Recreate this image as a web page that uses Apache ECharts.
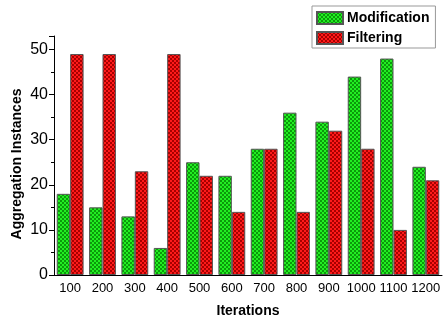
<!DOCTYPE html>
<html><head><meta charset="utf-8">
<script src="https://cdn.jsdelivr.net/npm/echarts@6/dist/echarts.min.js"></script>
<style>html,body{margin:0;padding:0;background:#fff}#c{width:444px;height:324px}</style>
</head><body><div id="c"></div>
<script>
const categories = ['100','200','300','400','500','600','700','800','900','1000','1100','1200'];
const modification = [18,15,13,6,25,22,28,36,34,44,48,24];
const filtering = [49,49,23,49,22,14,28,14,32,28,10,21];
const yTicks = [0,10,20,30,40,50];

function pattern(base, dark){
  const c = document.createElement('canvas');
  c.width = 4; c.height = 4;
  const g = c.getContext('2d');
  g.fillStyle = base; g.fillRect(0,0,4,4);
  g.fillStyle = dark; g.fillRect(0,0,2,2); g.fillRect(2,2,2,2);
  return {image: c, repeat: 'repeat'};
}
const greenFill = pattern('#22ee22', '#0a9a0a');
const redFill = pattern('#ff1a1a', '#a80000');

const chart = echarts.init(document.getElementById('c'), null, {renderer:'canvas'});
const font = '"Liberation Sans", Arial, sans-serif';
chart.setOption({
  animation: false,
  grid: {left: 54, right: 2, top: 36, bottom: 49, containLabel: false, outerBoundsMode: 'none'},
  legend: {
    orient: 'vertical', left: 312, top: 6,
    padding: [5, 6, 3, 4], itemGap: 6,
    itemWidth: 26, itemHeight: 12, icon: 'rect',
    borderColor: '#999', borderWidth: 1,
    textStyle: {fontFamily: font, fontWeight: 'bold', fontSize: 14, color: '#000', padding: [0,0,0,-1]},
    data: ['Modification', 'Filtering']
  },
  xAxis: [{
    type: 'category', data: categories,
    name: 'Iterations', nameLocation: 'middle', nameGap: 29,
    nameTextStyle: {fontFamily: font, fontWeight: 'bold', fontSize: 14, color: '#000'},
    axisLine: {lineStyle: {color: '#000', width: 1}},
    axisTick: {alignWithLabel: true, length: 4, lineStyle: {color: '#000'}},
    axisLabel: {fontFamily: font, fontSize: 13, color: '#000', margin: 7, interval: 0}
  },{
    type: 'category', data: categories, position: 'bottom',
    axisLine: {show: false},
    axisTick: {length: 2, lineStyle: {color: '#000'}},
    axisLabel: {show: false}
  }],
  yAxis: {
    type: 'value', min: 0, max: 53, interval: 10,
    name: 'Aggregation Instances', nameLocation: 'middle', nameGap: 30, nameMoveOverlap: false,
    nameTextStyle: {fontFamily: font, fontWeight: 'bold', fontSize: 14, color: '#000', padding: [0, 17, 0, 0]},
    axisLine: {show: true, lineStyle: {color: '#000', width: 1}},
    axisTick: {show: true, length: 5, lineStyle: {color: '#000'}},
    minorTick: {show: true, splitNumber: 2, length: 3, lineStyle: {color: '#000'}},
    splitLine: {show: false},
    axisLabel: {fontFamily: font, fontSize: 16, color: '#000', margin: 6,
      showMaxLabel: false,
      formatter: v => yTicks.includes(v) ? String(v) : ''}
  },
  series: [{
    name: 'Modification', type: 'bar', data: modification,
    barGap: '0%', barCategoryGap: '17%',
    itemStyle: {color: greenFill, borderColor: '#555', borderWidth: 1}
  },{
    name: 'Filtering', type: 'bar', data: filtering,
    itemStyle: {color: redFill, borderColor: '#555', borderWidth: 1}
  }]
});
</script></body></html>
